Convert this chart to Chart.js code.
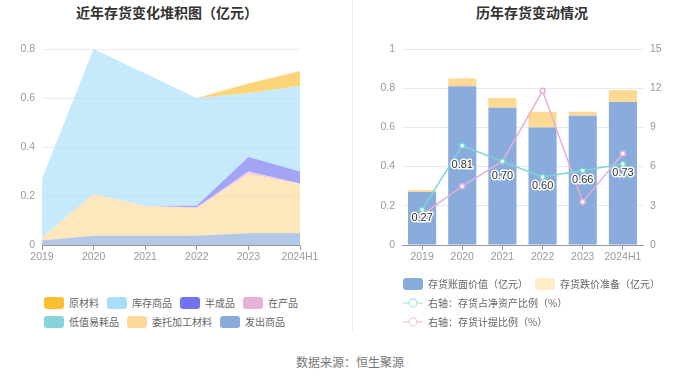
<!DOCTYPE html>
<html>
<head>
<meta charset="utf-8">
<script src="https://cdn.jsdelivr.net/npm/chart.js@4.4.0/dist/chart.umd.min.js"></script>
<style>
  body { margin: 0; background: #fff; font-family: "Noto Sans CJK SC", "Liberation Sans", sans-serif; }
  #wrap { position: relative; width: 700px; height: 378px; overflow: hidden; }
  .title { position: absolute; top: 2px; font-size: 14px; font-weight: bold; color: #333; transform: translateX(-50%); white-space: nowrap; }
  #divider { position: absolute; left: 352px; top: 0; width: 1px; height: 332px; background: #f0f0f0; }
  canvas { position: absolute; top: 0; }
  .legend { position: absolute; font-size: 10px; color: #666; }
  .row { display: flex; align-items: center; height: 19px; white-space: nowrap; }
  .item { display: flex; align-items: center; }
  .swatch { width: 20px; height: 12px; border-radius: 3px; margin-right: 5px; }
  .item svg { margin-right: 5px; }
  #source { position: absolute; left: 350px; top: 353px; transform: translateX(-50%); font-size: 12px; color: #777; white-space: nowrap; }
</style>
</head>
<body>
<div id="wrap">
  <div class="title" style="left:167px">近年存货变化堆积图（亿元）</div>
  <div class="title" style="left:532px">历年存货变动情况</div>
  <div id="divider"></div>
  <canvas id="left-chart" width="350" height="280" style="left:0"></canvas>
  <canvas id="right-chart" width="350" height="280" style="left:350px"></canvas>
  <div class="legend" id="left-legend" style="left:44px; top:293px"></div>
  <div class="legend" id="right-legend" style="left:403px; top:274px"></div>
  <div id="source">数据来源：恒生聚源</div>
</div>
<script>
// years on both x axes
const years = ['2019', '2020', '2021', '2022', '2023', '2024H1'];

// left chart: inventory composition (亿元), bottom of stack first
const shipped = [0.018, 0.038, 0.038, 0.038, 0.048, 0.048];      // 发出商品
const consigned = [0.012, 0.17, 0.121, 0.112, 0.242, 0.201];     // 委托加工材料
const lowValue = [0, 0, 0, 0, 0, 0];                              // 低值易耗品
const wip = [0, 0, 0, 0.004, 0.01, 0.002];                        // 在产品
const semiFinished = [0, 0, 0, 0.006, 0.059, 0.049];              // 半成品
const goods = [0.24, 0.592, 0.541, 0.44, 0.26, 0.35];             // 库存商品
const rawMaterial = [0, 0, 0, 0, 0.04, 0.06];                     // 原材料
const leftTicks = [0, 0.2, 0.4, 0.6, 0.8];

// right chart
const bookValue = [0.27, 0.81, 0.70, 0.60, 0.66, 0.73];          // 存货账面价值
const impairment = [0.01, 0.04, 0.05, 0.08, 0.02, 0.06];         // 存货跌价准备
const netAssetRatio = [2.7, 7.6, 6.4, 5.2, 5.7, 6.2];            // 存货占净资产比例 %
const provisionRatio = [2.3, 4.5, 6.4, 11.8, 3.3, 7.0];          // 存货计提比例 %
const rightTicks = [0, 0.2, 0.4, 0.6, 0.8, 1];
const rightTicks2 = [0, 3, 6, 9, 12, 15];

Chart.defaults.font.family = '"Liberation Sans", "Noto Sans CJK SC", sans-serif';
Chart.defaults.font.size = 10.5;
Chart.defaults.color = '#999';

function alpha(hex, a) {
    const n = parseInt(hex.slice(1), 16);
    return `rgba(${n >> 16}, ${(n >> 8) & 255}, ${n & 255}, ${a})`;
}

const stackDefs = [
    { label: '发出商品', data: shipped, color: '#8aaad8' },
    { label: '委托加工材料', data: consigned, color: '#fdd999' },
    { label: '低值易耗品', data: lowValue, color: '#86d4d9' },
    { label: '在产品', data: wip, color: '#e6b3d6' },
    { label: '半成品', data: semiFinished, color: '#7373f0' },
    { label: '库存商品', data: goods, color: '#a8defa' },
    { label: '原材料', data: rawMaterial, color: '#fbbf33' }
];

const fixWidth = w => axis => { axis.width = w; };
const fixHeight = h => axis => { axis.height = h; };
const plainTick = v => String(v);

new Chart(document.getElementById('left-chart'), {
    type: 'line',
    data: {
        labels: years,
        datasets: stackDefs.map((d, i) => ({
            label: d.label,
            data: d.data,
            backgroundColor: alpha(d.color, 0.65),
            borderWidth: 0,
            pointRadius: 0,
            fill: i === 0 ? 'origin' : '-1',
            tension: 0
        }))
    },
    options: {
        responsive: false,
        animation: false,
        layout: { padding: { top: 49, right: 50, bottom: 15, left: 0 } },
        plugins: { legend: { display: false }, tooltip: { enabled: false } },
        scales: {
            x: {
                grid: { drawOnChartArea: false, tickLength: 5, color: '#999' },
                border: { color: '#999' },
                ticks: { padding: 1, maxRotation: 0, autoSkip: false },
                afterFit: fixHeight(20)
            },
            y: {
                stacked: true,
                min: 0,
                max: leftTicks[leftTicks.length - 1],
                afterBuildTicks: axis => { axis.ticks = leftTicks.map(v => ({ value: v })); },
                grid: { color: '#e8ecf6', drawTicks: false },
                border: { display: false },
                ticks: { padding: 7, callback: plainTick },
                afterFit: fixWidth(42)
            }
        }
    }
});

// value labels in the middle of the book-value bars
const barLabels = {
    id: 'barLabels',
    afterDatasetsDraw(chart) {
        const ctx = chart.ctx;
        const meta = chart.getDatasetMeta(0);
        ctx.save();
        ctx.font = '11px "Liberation Sans", sans-serif';
        ctx.textAlign = 'center';
        ctx.textBaseline = 'middle';
        ctx.lineWidth = 3;
        ctx.lineJoin = 'round';
        ctx.strokeStyle = '#fff';
        ctx.fillStyle = '#333';
        meta.data.forEach((bar, i) => {
            const txt = bookValue[i].toFixed(2);
            const y = (bar.y + bar.base) / 2;
            ctx.strokeText(txt, bar.x, y);
            ctx.fillText(txt, bar.x, y);
        });
        ctx.restore();
    }
};

const rightDefs = [
    { type: 'bar', label: '存货账面价值（亿元）', data: bookValue, color: '#8aacdc' },
    { type: 'bar', label: '存货跌价准备（亿元）', data: impairment, color: '#fed993' },
    { type: 'line', label: '右轴：存货占净资产比例（%）', data: netAssetRatio, color: '#79d6d4' },
    { type: 'line', label: '右轴：存货计提比例（%）', data: provisionRatio, color: '#e8aed8' }
];

new Chart(document.getElementById('right-chart'), {
    data: {
        labels: years,
        datasets: rightDefs.map(d => d.type === 'bar' ? {
            type: 'bar',
            label: d.label,
            data: d.data,
            backgroundColor: d.color,
            stack: 'inv',
            yAxisID: 'y',
            order: 2,
            categoryPercentage: 0.7,
            barPercentage: 1
        } : {
            type: 'line',
            label: d.label,
            data: d.data,
            borderColor: d.color,
            backgroundColor: '#fff',
            borderWidth: 1.5,
            pointRadius: 2.5,
            pointBorderWidth: 1.5,
            pointBackgroundColor: '#fff',
            pointBorderColor: d.color,
            yAxisID: 'y1',
            order: 1,
            tension: 0
        })
    },
    options: {
        responsive: false,
        animation: false,
        layout: { padding: { top: 49, right: 0, bottom: 15, left: 0 } },
        plugins: { legend: { display: false }, tooltip: { enabled: false } },
        scales: {
            x: {
                stacked: true,
                grid: { offset: false, drawOnChartArea: false, tickLength: 5, color: '#999' },
                border: { color: '#999' },
                ticks: { padding: 1, maxRotation: 0, autoSkip: false },
                afterFit: fixHeight(20)
            },
            y: {
                stacked: true,
                min: 0,
                max: 1,
                afterBuildTicks: axis => { axis.ticks = rightTicks.map(v => ({ value: v })); },
                grid: { color: '#e6e8f5', drawTicks: false },
                border: { display: false },
                ticks: { padding: 7, callback: plainTick },
                afterFit: fixWidth(52)
            },
            y1: {
                position: 'right',
                min: 0,
                max: 15,
                afterBuildTicks: axis => { axis.ticks = rightTicks2.map(v => ({ value: v })); },
                grid: { drawOnChartArea: false, drawTicks: false },
                border: { display: false },
                ticks: { padding: 7, callback: plainTick },
                afterFit: fixWidth(57)
            }
        }
    },
    plugins: [barLabels]
});

// html legends built from the same definitions
function swatchItem(label, color, opacity) {
    return `<div class="item"><span class="swatch" style="background:${color};opacity:${opacity}"></span>${label}</div>`;
}
function lineItem(label, color) {
    return `<div class="item"><svg width="20" height="12" style="opacity:0.55"><line x1="0" y1="6" x2="20" y2="6" stroke="${color}" stroke-width="1.5"/>` +
        `<circle cx="10" cy="6" r="4" fill="#fff" stroke="${color}" stroke-width="1.5"/></svg>${label}</div>`;
}

const leftOrder = stackDefs.slice().reverse();
const leftRows = [leftOrder.slice(0, 4), leftOrder.slice(4)];
document.getElementById('left-legend').innerHTML = leftRows.map(r =>
    `<div class="row" style="gap:8px">${r.map(d => swatchItem(d.label, d.color, 1)).join('')}</div>`
).join('');

document.getElementById('right-legend').innerHTML =
    `<div class="row" style="gap:7px">${swatchItem(rightDefs[0].label, rightDefs[0].color, 1)}${swatchItem(rightDefs[1].label, rightDefs[1].color, 0.5)}</div>` +
    `<div class="row">${lineItem(rightDefs[2].label, rightDefs[2].color)}</div>` +
    `<div class="row">${lineItem(rightDefs[3].label, rightDefs[3].color)}</div>`;
</script>
</body>
</html>
